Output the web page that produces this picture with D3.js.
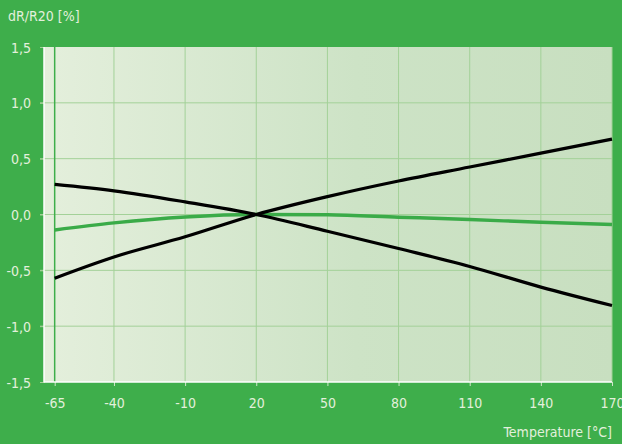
<!DOCTYPE html>
<html>
<head>
<meta charset="utf-8">
<script src="https://unpkg.com/d3@7/dist/d3.min.js"></script>
<style>
  html, body { margin: 0; padding: 0; background: #3eae4b; }
  svg { display: block; }
  text { font-family: "DejaVu Sans Condensed", "DejaVu Sans", sans-serif; font-stretch: condensed; fill: #e3f0dc; }
</style>
</head>
<body>
<div id="chart"></div>
<script>
const temps = [-65, -40, -10, 20, 50, 80, 110, 140, 170];
const rising = [-0.57, -0.38, -0.20, 0, 0.16, 0.30, 0.425, 0.55, 0.675];
const falling = [0.27, 0.212, 0.113, 0, -0.15, -0.305, -0.465, -0.65, -0.815];
const flat = [-0.138, -0.075, -0.022, 0, -0.003, -0.024, -0.045, -0.07, -0.09];
const yTicks = [-1.5, -1.0, -0.5, 0, 0.5, 1.0, 1.5];

const width = 622, height = 444;
const margin = {top: 47, right: 10, bottom: 62, left: 44};

const svg = d3.select("#chart")
  .append("svg")
  .attr("width", width)
  .attr("height", height);

const x = d3.scaleLinear()
  .domain([-69.5, 170])
  .range([margin.left, width - margin.right]);

const y = d3.scaleLinear()
  .domain([-1.5, 1.5])
  .range([height - margin.bottom, margin.top]);

// plot background gradient
const grad = svg.append("defs").append("linearGradient")
  .attr("id", "bg")
  .attr("x1", "0%").attr("x2", "100%").attr("y1", "0%").attr("y2", "0%");
grad.append("stop").attr("offset", "0%").attr("stop-color", "#e4efdc");
grad.append("stop").attr("offset", "55%").attr("stop-color", "#cde3c6");
grad.append("stop").attr("offset", "100%").attr("stop-color", "#c8dfc0");

svg.append("rect")
  .attr("x", x.range()[0])
  .attr("y", y(1.5))
  .attr("width", x.range()[1] - x.range()[0])
  .attr("height", y(-1.5) - y(1.5))
  .attr("fill", "url(#bg)");

// grid
svg.append("g")
  .selectAll("line")
  .data(yTicks.filter(d => d > -1.5 && d < 1.5))
  .join("line")
  .attr("x1", x.range()[0] - 4)
  .attr("x2", x.range()[1])
  .attr("y1", d => y(d))
  .attr("y2", d => y(d))
  .attr("stroke", "#a3d198")
  .attr("stroke-width", 1);

svg.append("g")
  .selectAll("line")
  .data(temps.slice(1))
  .join("line")
  .attr("x1", d => x(d))
  .attr("x2", d => x(d))
  .attr("y1", y(1.5))
  .attr("y2", y(-1.5))
  .attr("stroke", "#a3d198")
  .attr("stroke-width", 1);

// -65 line
svg.append("line")
  .attr("x1", x(-65)).attr("x2", x(-65))
  .attr("y1", y(1.5)).attr("y2", y(-1.5))
  .attr("stroke", "#3eae4b")
  .attr("stroke-width", 1.5);

const fmtY = d => d3.format(".1f")(d).replace(".", ",").replace("\u2212", "-");
const fmtX = d => String(d);

// axes
const yAxis = svg.append("g")
  .attr("transform", `translate(${margin.left},0)`)
  .call(d3.axisLeft(y).tickValues(yTicks).tickSize(4).tickPadding(9).tickFormat(fmtY));
yAxis.select(".domain").remove();
yAxis.selectAll(".tick line").attr("stroke", "#a3d198");
yAxis.selectAll("text").attr("font-size", 14).attr("fill", "#e3f0dc").attr("dy", "0.36em");

const xAxis = svg.append("g")
  .attr("transform", `translate(0,${height - margin.bottom})`)
  .call(d3.axisBottom(x).tickValues(temps).tickSize(4).tickPadding(12).tickFormat(fmtX));
xAxis.select(".domain").remove();
xAxis.selectAll(".tick line").attr("stroke", "#cfe6c8");
xAxis.selectAll("text").attr("font-size", 14).attr("fill", "#e3f0dc");

svg.append("line")
  .attr("x1", x.range()[0]).attr("x2", x.range()[0])
  .attr("y1", y(1.5)).attr("y2", y(-1.5) + 0.5)
  .attr("stroke", "#ffffff").attr("stroke-width", 1.5);
svg.append("line")
  .attr("x1", x.range()[0]).attr("x2", x.range()[1])
  .attr("y1", y(-1.5)).attr("y2", y(-1.5))
  .attr("stroke", "#ffffff").attr("stroke-width", 1.5);

// curves
const line = d3.line()
  .x((d, i) => x(temps[i]))
  .y(d => y(d))
  .curve(d3.curveMonotoneX);

svg.append("path").datum(flat)
  .attr("d", line).attr("fill", "none")
  .attr("stroke", "#3aab48").attr("stroke-width", 3.5);
svg.append("path").datum(falling)
  .attr("d", line).attr("fill", "none")
  .attr("stroke", "#000").attr("stroke-width", 3.2);
svg.append("path").datum(rising)
  .attr("d", line).attr("fill", "none")
  .attr("stroke", "#000").attr("stroke-width", 3.2);

// labels
svg.append("text")
  .attr("x", 8).attr("y", 21)
  .attr("font-size", 14)
  .text("dR/R20 [%]");
svg.append("text")
  .attr("x", 612).attr("y", 437)
  .attr("text-anchor", "end")
  .attr("font-size", 14)
  .text("Temperature [°C]");
</script>
</body>
</html>
